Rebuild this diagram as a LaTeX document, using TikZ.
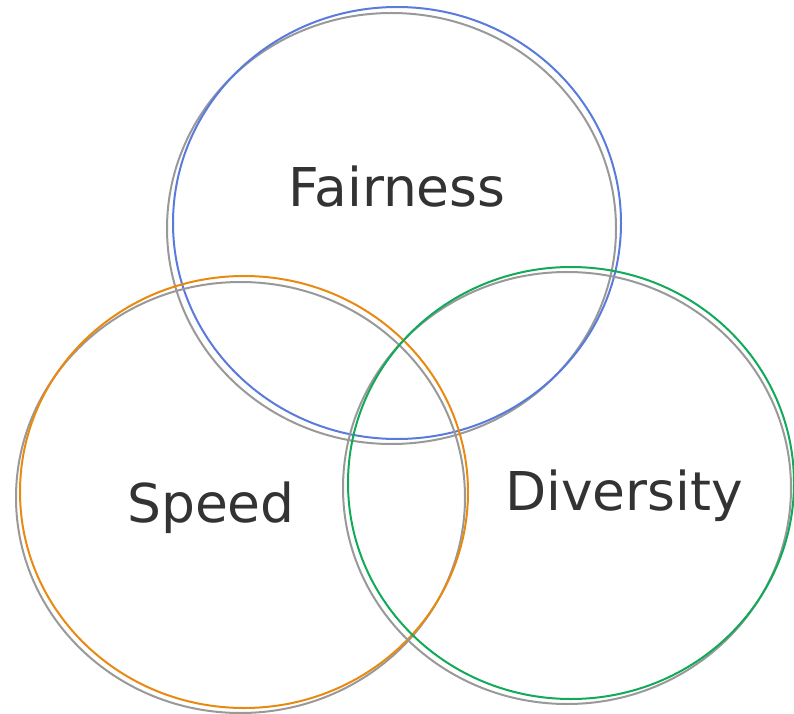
\documentclass[tikz,border=0pt]{standalone}
\usepackage{fontspec}
\setmainfont{DejaVu Sans}
\usepackage{tikz}
\usetikzlibrary{calc,positioning}
\definecolor{fairblue}{HTML}{5A7BDB}
\definecolor{speedorange}{HTML}{E88A10}
\definecolor{divgreen}{HTML}{12AA58}
\definecolor{shadowgray}{HTML}{999999}
\definecolor{labelgray}{HTML}{333333}

\begin{document}
\begin{tikzpicture}[x=1pt,y=1pt,line width=2pt,
  lbl/.style={anchor=base,text=labelgray,font=\fontsize{53.5}{62}\selectfont,inner sep=0pt}]
\useasboundingbox (0,0) rectangle (794,713);
\coordinate (F) at (397,490);
\coordinate (S) at (244,221);
\coordinate (D) at (571,230);
\draw[shadowgray] ($(F)+(-5.5,-5.5)$) ellipse (224.5 and 215.5);
\draw[fairblue] (F) ellipse (224 and 216);
\draw[shadowgray] ($(S)+(-3.5,-5.5)$) ellipse (224.5 and 215.5);
\draw[speedorange] (S) ellipse (224 and 216);
\draw[shadowgray] ($(D)+(-4,-5)$) ellipse (224 and 216);
\draw[divgreen] (D) ellipse (223 and 216);
\node[lbl] (fair) at (397,506) {Fairness};
\node[lbl] (speed) at (211,191) {Speed};
\node[lbl] (div) at (624,203) {Diversity};
\end{tikzpicture}
\end{document}
